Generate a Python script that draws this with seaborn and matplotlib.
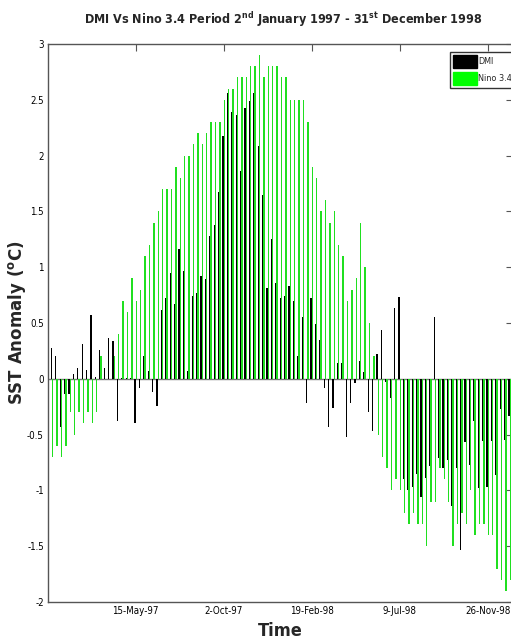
import numpy as np
import pandas as pd
import matplotlib
matplotlib.use('Agg')
import matplotlib.pyplot as plt
import seaborn as sns
from matplotlib.patches import Patch

# weekly values, 2 Jan 1997 .. 31 Dec 1998 (105 weeks)
dmi = [0.28, 0.20, -0.43, -0.14, -0.14, 0.04, 0.10, 0.31, 0.08, 0.57,
       0.02, 0.26, 0.10, 0.37, 0.34, -0.38, 0.01, 0.01, 0.01, -0.40,
       -0.08, 0.20, 0.07, -0.12, -0.24, 0.62, 0.72, 0.95, 0.67, 1.16,
       0.97, 0.07, 0.74, 0.77, 0.92, 0.89, 1.28, 1.38, 1.67, 2.18,
       2.56, 2.39, 2.36, 1.86, 2.43, 2.49, 2.56, 2.09, 1.65, 0.81,
       1.25, 0.86, 0.72, 0.74, 0.83, 0.70, 0.20, 0.55, -0.22, 0.72,
       0.49, 0.35, -0.08, -0.43, -0.26, 0.14, 0.14, -0.52, -0.22, -0.04,
       0.16, 0.06, -0.30, -0.47, 0.22, 0.44, -0.03, -0.17, 0.63, 0.73,
       -0.90, -1.00, -0.97, -0.85, -1.06, -0.89, -0.78, 0.55, -0.71, -0.80,
       -0.73, -1.14, -0.80, -1.53, -0.57, -0.77, -0.38, -0.98, -0.56, -0.97,
       -0.56, -0.86, -0.27, -0.55, -0.33]
nino = [-0.7, -0.6, -0.7, -0.6, -0.3, -0.5, -0.3, -0.4, -0.3, -0.4,
        -0.3, 0.2, 0.0, 0.0, 0.2, 0.4, 0.7, 0.6, 0.9, 0.7,
        0.8, 1.1, 1.2, 1.4, 1.5, 1.7, 1.7, 1.7, 1.9, 1.8,
        2.0, 2.0, 2.1, 2.2, 2.1, 2.2, 2.3, 2.3, 2.3, 2.5,
        2.6, 2.6, 2.7, 2.7, 2.7, 2.8, 2.8, 2.9, 2.7, 2.8,
        2.8, 2.8, 2.7, 2.7, 2.5, 2.5, 2.5, 2.5, 2.3, 1.9,
        1.8, 1.5, 1.6, 1.4, 1.5, 1.2, 1.1, 0.7, 0.8, 0.9,
        1.4, 1.0, 0.5, 0.2, -0.5, -0.7, -0.8, -1.0, -0.9, -1.0,
        -1.2, -1.3, -1.2, -1.3, -1.3, -1.5, -1.1, -1.1, -0.8, -0.9,
        -1.1, -1.5, -1.3, -1.2, -1.3, -1.0, -1.4, -1.3, -1.3, -1.4,
        -1.4, -1.7, -1.8, -1.9, -1.8]
tick_pos = [19, 39, 59, 79, 99]
tick_labels = ['15-May-97', '2-Oct-97', '19-Feb-98', '9-Jul-98', '26-Nov-98']
y_ticks = [3, 2.5, 2, 1.5, 1, 0.5, 0, -0.5, -1, -1.5, -2]
y_labels = ['3', '2.5', '2', '1.5', '1', '0.5', '0', '-0.5', '-1', '-1.5', '-2']

week = np.arange(len(dmi))
df = pd.DataFrame({
    'week': np.concatenate([week, week]),
    'value': dmi + nino,
    'series': ['DMI'] * len(dmi) + ['Nino 3.4'] * len(nino),
})

sns.set_style('white')
plt.rcParams['font.family'] = ['DejaVu Sans']
plt.rcParams['font.stretch'] = 'condensed'
plt.rcParams['mathtext.default'] = 'regular'

fig = plt.figure(figsize=(5.11, 6.44), dpi=100)
ax = fig.add_axes([48 / 511, 42 / 644, 465 / 511, 558 / 644])

sns.barplot(data=df, x='week', y='value', hue='series',
            hue_order=['DMI', 'Nino 3.4'], palette=['black', '#00ff00'],
            width=0.62, errorbar=None, linewidth=0, ax=ax)

ax.axhline(0, color='#777777', lw=1, zorder=0)
ax.set_xlim(-0.93, 104.75)
ax.set_ylim(-2, 3)
ax.set_xticks(tick_pos)
ax.set_xticklabels(tick_labels, fontsize=7)
ax.set_yticks(y_ticks)
ax.set_yticklabels(y_labels, fontsize=7)
ax.tick_params(direction='in', top=True, right=True, length=5, width=0.8,
               colors='#555555', labelcolor='black', pad=3)
for s in ax.spines.values():
    s.set_color('#555555')
    s.set_linewidth(1)

ax.set_xlabel('Time', fontsize=13, fontweight='bold', labelpad=4)
ax.set_ylabel('SST Anomaly ($^{o}$C)', fontsize=12, fontweight='bold',
              fontstretch='normal')
ax.yaxis.set_label_coords(-0.042, 0.5)
fig.text(283 / 511, 1 - 20 / 644,
         'DMI Vs Nino 3.4 Period 2$^{nd}$ January 1997 - 31$^{st}$ December 1998',
         ha='center', va='center', fontsize=9, fontweight='bold')

handles = [Patch(facecolor='black', edgecolor='black'),
           Patch(facecolor='#00ff00', edgecolor='#00ff00')]
ax.legend(handles, ['DMI', 'Nino 3.4'], loc='upper left',
          bbox_to_anchor=(450 / 511, 1 - 52 / 644), bbox_transform=fig.transFigure,
          borderaxespad=0, fancybox=False, edgecolor='#333333', framealpha=1,
          fontsize=6.5, handlelength=2.6, handleheight=1.8, borderpad=0.35,
          labelspacing=0.45, handletextpad=0.15)

fig.savefig('out.png', dpi=100)
